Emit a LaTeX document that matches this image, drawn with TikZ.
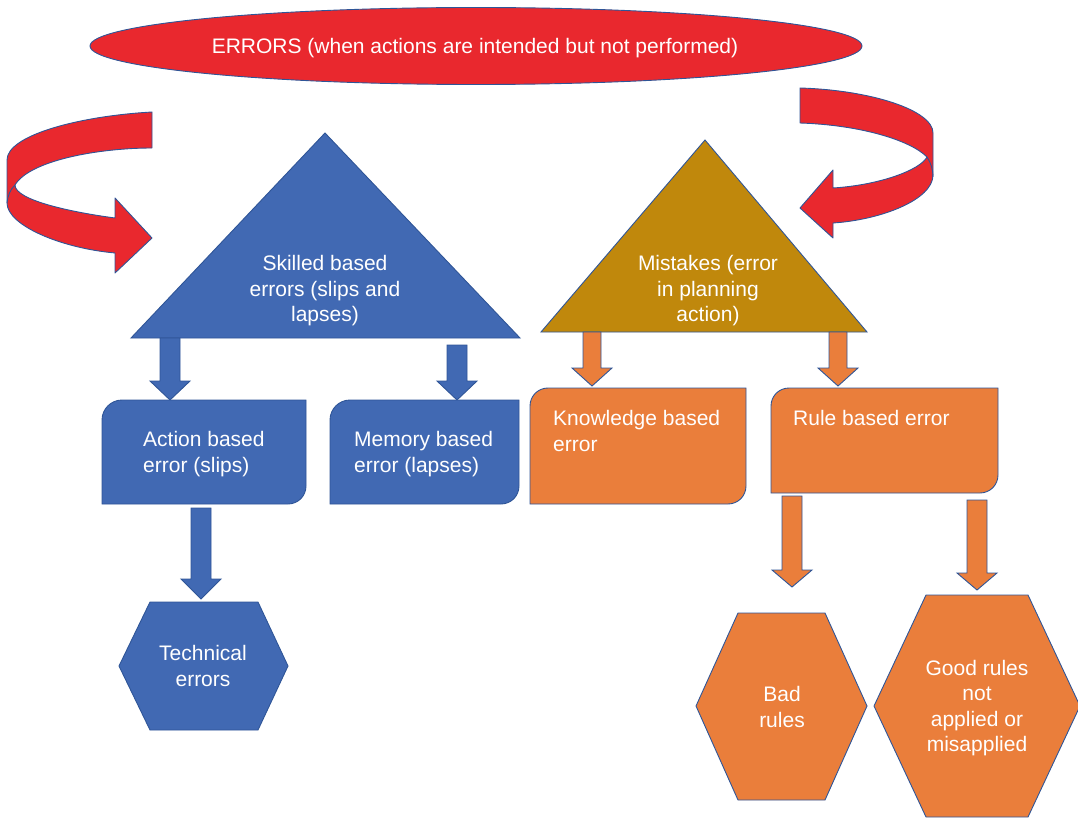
\documentclass[tikz,border=0pt]{standalone}
\usepackage{fontspec}
\setmainfont{Liberation Sans}
\usetikzlibrary{shapes.geometric}
\definecolor{redfill}{RGB}{233,40,46}
\definecolor{bluefill}{RGB}{65,105,179}
\definecolor{orangefill}{RGB}{234,126,59}
\definecolor{goldfill}{RGB}{192,136,12}
\definecolor{edgecol}{RGB}{47,85,151}
\newcommand{\blockarrowdown}[7]{% style, x, ytop, yhead, ytip, halfshaft, halfhead
  \path[#1] (#2-#6,#3) -- (#2+#6,#3) -- (#2+#6,#4) -- (#2+#7,#4) -- (#2,#5) -- (#2-#7,#4) -- (#2-#6,#4) -- cycle;}
\begin{document}
\begin{tikzpicture}[x=1pt,y=-1pt,
  outl/.style={draw=edgecol,line width=0.9pt,line join=miter},
  bluesh/.style={outl,fill=bluefill},
  orangesh/.style={outl,fill=orangefill},
  goldsh/.style={outl,fill=goldfill},
  redsh/.style={outl,fill=redfill},
  lbl/.style={text=white,inner sep=0pt,font=\fontsize{21}{25.5}\selectfont,align=center},
  lbll/.style={text=white,inner sep=0pt,font=\fontsize{21}{25.5}\selectfont,align=left}]
\useasboundingbox (0,0) rectangle (1078,818);
% top ellipse
\node[ellipse,redsh,minimum width=772pt,minimum height=77pt,inner sep=0pt] (errors) at (476,46) {};
\node[lbl,anchor=base] (errorst) at (475,54) {ERRORS (when actions are intended but not performed)};
% ribbon arrows
\path[redsh,line join=round] (152,112) .. controls (80,116) and (7,135) .. (7,160) -- (7,203) .. controls (7,225) and (60,248) .. (115,253) -- (115,273) -- (152,238) -- (115,198) -- (115,218) .. controls (70,212) and (15,200) .. (15,185) .. controls (30,160) and (100,148) .. (152,148) -- cycle;
\draw[edgecol,line width=0.9pt] (15,185) .. controls (10,190) and (8,195) .. (7,203);
\path[redsh,line join=round] (800,88) .. controls (870,90) and (933,110) .. (933,133) -- (933,175) .. controls (933,200) and (880,220) .. (833,223) -- (833,238) -- (800,208) -- (833,170) -- (833,188) .. controls (880,185) and (920,170) .. (927,157) .. controls (910,140) and (860,125) .. (800,123) -- cycle;
\draw[edgecol,line width=0.9pt] (927,157) .. controls (931,163) and (933,170) .. (933,177);
% triangles
\path[bluesh] (325,133) -- (520,338) -- (131,338) -- cycle;
\node[lbl] (skilled) at (325,291) {Skilled based\\errors (slips and\\lapses)};
\path[goldsh] (705,140) -- (867,332) -- (541,332) -- cycle;
\node[lbl] (mistakes) at (708,291) {Mistakes (error\\in planning\\action)};
% arrows from triangles
\blockarrowdown{bluesh}{170}{338}{381}{400}{10}{20}
\blockarrowdown{bluesh}{457}{345}{381}{400}{10}{20}
\blockarrowdown{orangesh}{592}{332}{368}{386}{9}{20}
\blockarrowdown{orangesh}{838}{332}{368}{386}{9}{20}
% boxes (top-left and bottom-right rounded)
\path[bluesh] (102,504) -- (102,420) .. controls (102,409) and (111,400) .. (122,400) -- (306,400) -- (306,486) .. controls (306,496) and (298,504) .. (288,504) -- cycle;
\node[lbll,anchor=west] (action) at (143,454) {Action based\\error (slips)};
\path[bluesh] (330,504) -- (330,420) .. controls (330,409) and (339,400) .. (350,400) -- (519,400) -- (519,486) .. controls (519,496) and (511,504) .. (501,504) -- cycle;
\node[lbll,anchor=west] (memory) at (354,454) {Memory based\\error (lapses)};
\path[orangesh] (530,504) -- (530,406) .. controls (530,396) and (538,388) .. (548,388) -- (746,388) -- (746,486) .. controls (746,496) and (738,504) .. (728,504) -- cycle;
\node[lbll,anchor=west] (knowledge) at (553,431) {Knowledge based\\error};
\path[orangesh] (771,493) -- (771,406) .. controls (771,396) and (779,388) .. (789,388) -- (998,388) -- (998,475) .. controls (998,485) and (990,493) .. (980,493) -- cycle;
\node[lbll,anchor=base west] (rule) at (793,425) {Rule based error};
% lower arrows
\blockarrowdown{bluesh}{201}{508}{579}{599}{10}{20}
\blockarrowdown{orangesh}{792}{496}{570}{587}{10}{20}
\blockarrowdown{orangesh}{977}{500}{573}{590}{10}{20}
% hexagons
\path[bluesh] (150,602) -- (258,602) -- (288,666) -- (258,730) -- (150,730) -- (119,666) -- cycle;
\node[lbl] (technical) at (203,666) {Technical\\errors};
\path[orangesh] (738,613) -- (825,613) -- (867,706) -- (825,800) -- (738,800) -- (696,706) -- cycle;
\node[lbl] (bad) at (782,707) {Bad\\rules};
\path[orangesh] (926,595) -- (1028,595) -- (1080,706) -- (1028,817) -- (926,817) -- (874,706) -- cycle;
\node[lbl] (good) at (977,708) {Good rules\\not\\applied or\\misapplied};
\end{tikzpicture}
\end{document}
